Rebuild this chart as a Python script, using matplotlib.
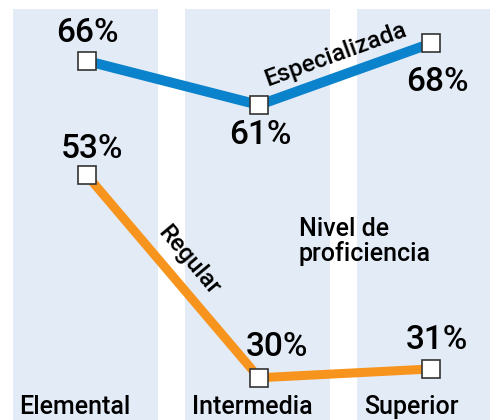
import matplotlib.pyplot as plt
from matplotlib.patches import Rectangle

plt.rcParams['font.family'] = ['Roboto', 'DejaVu Sans']
plt.rcParams['font.weight'] = 'medium'

categories = ['Elemental', 'Intermedia', 'Superior']
especializada = [66, 61, 68]
regular = [53, 30, 31]

band_color = '#e3ebf7'
blue = '#0a82cc'
orange = '#f7941e'

fig = plt.figure(figsize=(4.9, 4.2), dpi=100)
ax = fig.add_axes([0, 0, 1, 1])
ax.set_xlim(-0.506, 2.343)
ax.set_ylim(25.2, 72.93)
ax.axis('off')

# background bands
for i in range(len(categories)):
    ax.add_patch(Rectangle((i - 0.43, 0), 0.84, 71.9, facecolor=band_color,
                           edgecolor='none', zorder=0))

x = list(range(len(categories)))
ax.plot(x, especializada, color=blue, lw=7.2, solid_capstyle='butt', zorder=2,
        marker='s', ms=13, mfc='white', mec='#333333', mew=1.2)
ax.plot(x, regular, color=orange, lw=6.5, solid_capstyle='butt', zorder=2,
        marker='s', ms=13, mfc='white', mec='#333333', mew=1.2)

# value labels (pixel offsets from marker)
blue_offsets = [(0, 19), (1, -39), (6, -48)]
orange_offsets = [(5, 17), (18, 22), (6, 20)]
for xi, v, off in zip(x, especializada, blue_offsets):
    ax.annotate(f'{v}%', (xi, v), xytext=off, textcoords='offset pixels',
                ha='center', va='baseline', fontsize=24, color='black')
for xi, v, off in zip(x, regular, orange_offsets):
    ax.annotate(f'{v}%', (xi, v), xytext=off, textcoords='offset pixels',
                ha='center', va='baseline', fontsize=24, color='black')

# category labels
label_offsets = [-12, -7, -20]
for xi, cat, off in zip(x, categories, label_offsets):
    ax.annotate(cat, (xi, 25.2), xytext=(off, 6), textcoords='offset pixels',
                ha='center', va='baseline', fontsize=18)

# series labels along lines
ax.annotate('Especializada', (1.5, 64.5), xytext=(-9, 20), textcoords='offset pixels',
            ha='center', va='center', fontsize=17.5, rotation=20)
ax.annotate('Regular', (0.5, 41.5), xytext=(16, 16), textcoords='offset pixels',
            ha='center', va='center', fontsize=17.5, rotation=-50)

ax.text(1.23, 45.5, 'Nivel de\nproficiencia', ha='left', va='center',
        fontsize=18, linespacing=1.0)

fig.savefig('out.png', dpi=100)
